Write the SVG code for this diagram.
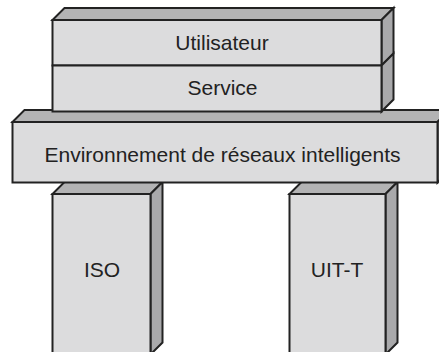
<svg xmlns="http://www.w3.org/2000/svg" width="439" height="352" viewBox="0 0 439 352">
<style>
.front{fill:#dcdcdd;stroke:#222;stroke-width:2;stroke-linejoin:miter}
.top{fill:#b3b3b4;stroke:#222;stroke-width:2;stroke-linejoin:miter}
.side{fill:#a9a9ab;stroke:#222;stroke-width:2;stroke-linejoin:miter}
.lbl{font-family:"Liberation Sans",Arial,sans-serif;font-size:21px;fill:#222;text-anchor:middle}
</style>
<rect width="439" height="352" fill="#fff"/>
<g id="iso">
<polygon class="top" points="52.5,194 64.5,182 162.5,182 150.5,194"/>
<polygon class="side" points="150.5,194 162.5,182 162.5,342.5 150.5,354.5"/>
<rect class="front" x="52.5" y="194" width="98" height="162"/>
<text class="lbl" x="102" y="276.5">ISO</text>
</g>
<g id="uit-t">
<polygon class="top" points="289.5,194 301.5,182 397.5,182 385.5,194"/>
<polygon class="side" points="385.5,194 397.5,182 397.5,342.5 385.5,354.5"/>
<rect class="front" x="289.5" y="194" width="96" height="162"/>
<text class="lbl" x="337" y="276.5">UIT-T</text>
</g>
<g id="environnement">
<polygon class="top" points="12.5,122 24.5,110 449.5,110 437.5,122"/>
<polygon class="side" points="437.5,122 449.5,110 449.5,170.5 437.5,182.5"/>
<rect class="front" x="12.5" y="122" width="425" height="60.5"/>
<text class="lbl" x="222.5" y="161.5">Environnement de réseaux intelligents</text>
</g>
<g id="utilisateur">
<polygon class="top" points="52.5,20 64.5,8 393.5,8 381.5,20"/>
<polygon class="side" points="381.5,20 393.5,8 393.5,53.5 381.5,65.5"/>
<rect class="front" x="52.5" y="20" width="329" height="45.5"/>
<text class="lbl" x="222" y="49.5">Utilisateur</text>
</g>
<g id="service">
<polygon class="side" points="381.5,65.5 393.5,53.5 393.5,99.5 381.5,111.5"/>
<rect class="front" x="52.5" y="65.5" width="329" height="46"/>
<text class="lbl" x="222.5" y="94.5">Service</text>
</g>
<g id="connectors"></g>
</svg>
